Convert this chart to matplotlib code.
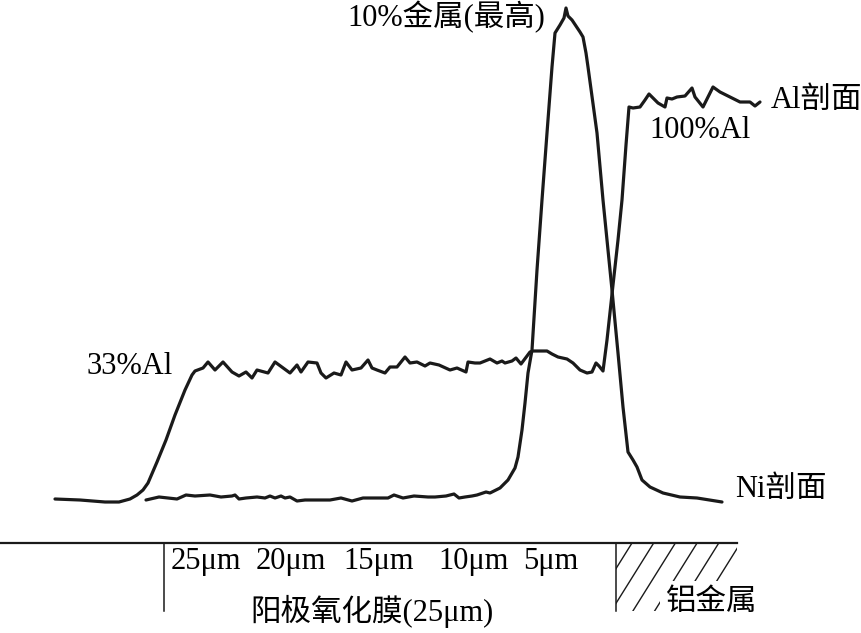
import numpy as np
import matplotlib
matplotlib.use("Agg")
import matplotlib.pyplot as plt
from matplotlib.patches import Rectangle

# ---- data (schematic coordinates) ----
al_x = [55, 80, 105, 119, 130, 137, 143, 148, 157, 166, 175, 185, 192, 195, 203, 208, 215, 223, 232, 239,
        246, 252, 257, 268, 275, 290, 297, 301, 308, 317, 321, 326, 334, 341, 346, 352, 361, 368, 372, 377,
        385, 390, 397, 405, 410, 417, 425, 430, 439, 450, 457, 466, 468, 475, 480, 490, 497, 502, 505, 512,
        516, 521, 530, 533, 547, 552, 558, 567, 573, 580, 587, 592, 596, 599, 603, 607, 613, 618, 622, 626,
        629, 633, 640, 645, 649, 653, 658, 665, 667, 672, 677, 685, 692, 695, 703, 713, 720, 730, 740, 750,
        755, 760]
al_y = [499, 500, 502, 502, 499, 495, 490, 483, 462, 440, 415, 390, 375, 371, 368, 362, 370, 362, 372, 376,
        372, 378, 370, 373, 362, 373, 365, 372, 362, 363, 373, 378, 373, 375, 362, 370, 368, 360, 368, 370,
        373, 367, 367, 357, 363, 362, 366, 363, 365, 370, 368, 372, 362, 363, 363, 359, 363, 361, 363, 361,
        358, 364, 352, 351, 351, 354, 357, 359, 363, 370, 373, 372, 363, 366, 371, 340, 285, 240, 200, 145,
        107, 108, 107, 100, 94, 98, 103, 107, 98, 99, 97, 96, 88, 97, 107, 87, 92, 97, 102, 102,
        106, 102]

ni_x = [146, 159, 177, 186, 195, 210, 221, 232, 235, 239, 246, 257, 265, 270, 275, 281, 285, 290, 297, 305,
        330, 341, 352, 363, 377, 388, 394, 403, 414, 428, 435, 446, 454, 459, 465, 472, 477, 486, 490, 500,
        508, 515, 518, 522, 525, 528, 532, 537, 542, 547, 552, 555, 560, 564, 566, 568, 572, 580, 583, 586,
        588, 597, 603, 612, 618, 623, 628, 633, 637, 642, 650, 663, 680, 697, 722]
ni_y = [500, 497, 499, 495, 496, 495, 497, 496, 495, 499, 498, 497, 498, 496, 498, 496, 498, 497, 501, 500,
        500, 498, 501, 498, 498, 498, 495, 498, 496, 497, 497, 496, 494, 498, 497, 496, 495, 492, 493, 488,
        480, 468, 457, 430, 403, 373, 350, 270, 200, 133, 67, 33, 25, 18, 8, 16, 20, 32, 37, 53,
        67, 133, 200, 290, 353, 407, 452, 460, 467, 480, 487, 493, 497, 498, 502]

tick_labels = ["25μm", "20μm", "15μm", "10μm", "5μm"]
tick_x = [206, 291, 379, 474, 551]

film_label = "阳极氧化膜(25μm)"
metal_label = "铝金属"

FONT = ["Liberation Serif", "Noto Sans CJK SC"]
FS = 22

fig = plt.figure(figsize=(8.62, 6.33), dpi=100)
ax = fig.add_axes([0, 0, 1, 1])
ax.set_xlim(0, 862)
ax.set_ylim(633, 0)
ax.axis("off")

ax.plot(al_x, al_y, color="#1a1a1a", lw=2.3, solid_joinstyle="round", solid_capstyle="round")
ax.plot(ni_x, ni_y, color="#1a1a1a", lw=2.3, solid_joinstyle="round", solid_capstyle="round")

# baseline and markers
ax.plot([0, 737], [543, 543], color="#1a1a1a", lw=1.6)
ax.plot([164, 164], [543, 611], color="#1a1a1a", lw=1.1)
ax.plot([616, 616], [543, 611], color="#1a1a1a", lw=1.1)

# hatched aluminium block
clip = Rectangle((616, 543), 737 - 616, 611 - 543, transform=ax.transData, fill=False, lw=0)
ax.add_patch(clip)
slope = 1.6
for xt in np.arange(632 - 21.7 * 6, 900, 21.7):
    ln, = ax.plot([xt, xt - (611 - 543) / slope], [543, 611], color="#1a1a1a", lw=1.0)
    ln.set_clip_path(clip)

# texts
ax.text(446, 17, "10%金属(最高)", family=FONT, fontsize=FS, ha="center", va="center")
ax.text(817, 100, "Al剖面", family=FONT, fontsize=FS, ha="center", va="center")
ax.text(700, 131, "100%Al", family=FONT, fontsize=FS, ha="center", va="center")
ax.text(130, 367, "33%Al", family=FONT, fontsize=FS, ha="center", va="center")
ax.text(781, 489, "Ni剖面", family=FONT, fontsize=FS, ha="center", va="center")
for lab, x in zip(tick_labels, tick_x):
    ax.text(x, 562, lab, family=FONT, fontsize=FS, ha="center", va="center")
ax.text(372, 611, film_label, family=FONT, fontsize=FS, ha="center", va="center")
ax.text(712, 602, metal_label, family=FONT, fontsize=FS, ha="center", va="center",
        bbox=dict(boxstyle="square,pad=0.2", fc="white", ec="none"))

fig.savefig("out.png", dpi=100)
